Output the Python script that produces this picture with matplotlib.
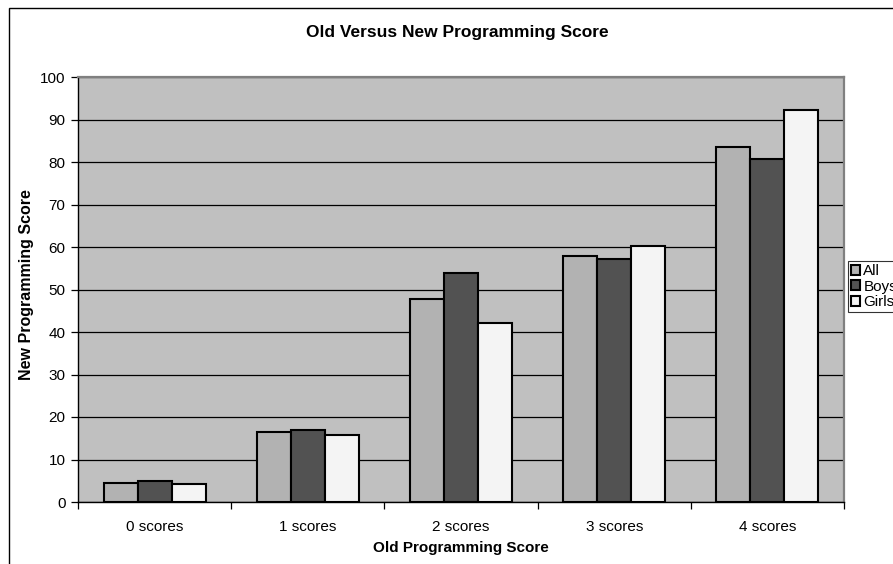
import numpy as np
import matplotlib
matplotlib.use("Agg")
import matplotlib.pyplot as plt
from matplotlib.patches import Rectangle

plt.rcParams['font.family'] = ['Liberation Sans', 'DejaVu Sans']

# data
categories = ['0 scores', '1 scores', '2 scores', '3 scores', '4 scores']
series_names = ['All', 'Boys', 'Girls']
all_scores = [4.5, 16.5, 47.8, 58.0, 83.6]
boys_scores = [4.9, 17.0, 53.8, 57.1, 80.6]
girls_scores = [4.2, 15.7, 42.2, 60.2, 92.2]
y_ticks = [0, 10, 20, 30, 40, 50, 60, 70, 80, 90, 100]

colors = ['#b2b2b2', '#525252', '#f4f4f4']

W, H = 893, 564
fig = plt.figure(figsize=(W / 100, H / 100), dpi=100)

# outer chart border (cropped at right and bottom in the reference)
fig.patches.append(Rectangle((8.5 / W, -0.1), 1.2, 1 - 8.5 / H + 0.1,
                             transform=fig.transFigure, fill=False,
                             edgecolor='black', lw=1.0))

left, right, top, bottom = 78, 844, 77, 502
ax = fig.add_axes([left / W, 1 - bottom / H, (right - left) / W, (bottom - top) / H])
ax.set_facecolor('#c0c0c0')

x = np.arange(len(categories))
bw = 1 / 4.5
for i, (vals, name) in enumerate(zip([all_scores, boys_scores, girls_scores], series_names)):
    ax.bar(x + (i - 1) * bw, vals, width=bw, color=colors[i], edgecolor='black',
           linewidth=1.5, label=name, zorder=3)

ax.set_xlim(-0.5, len(categories) - 0.5)
ax.set_ylim(0, 100)
ax.set_yticks(y_ticks)
ax.set_yticklabels([str(v) for v in y_ticks], fontsize=11)
ax.yaxis.grid(True, color='black', linewidth=0.9, zorder=1)
ax.set_axisbelow(True)

# category labels centred, ticks on the boundaries
ax.set_xticks(x)
ax.set_xticklabels(categories, fontsize=11)
ax.tick_params(axis='x', length=0, pad=13)
ax.set_xticks(np.arange(-0.5, len(categories)), minor=True)
ax.tick_params(axis='x', which='minor', length=5, width=0.9, color='black')
ax.tick_params(axis='y', length=5, width=0.9, pad=4)

for s in ['left', 'bottom']:
    ax.spines[s].set_color('black')
    ax.spines[s].set_linewidth(1.0)
for s in ['top', 'right']:
    ax.spines[s].set_color('#808080')
    ax.spines[s].set_linewidth(1.6)

fig.text(457 / W, 1 - 33 / H, 'Old Versus New Programming Score', ha='center',
         va='center', fontsize=12.5, fontweight='bold')
fig.text(461 / W, 1 - 548 / H, 'Old Programming Score', ha='center', va='center',
         fontsize=11, fontweight='bold')
fig.text(27 / W, 1 - 285 / H, 'New Programming Score', ha='center', va='center',
         rotation=90, fontsize=11.5, fontweight='bold')

leg = ax.legend(loc='upper left', bbox_to_anchor=(848 / W, 1 - 261 / H),
                bbox_transform=fig.transFigure, fontsize=11, frameon=True,
                fancybox=False, edgecolor='black', handlelength=0.6,
                handleheight=0.6, handletextpad=0.2, borderpad=0.2,
                labelspacing=0.1, borderaxespad=0)
leg.get_frame().set_linewidth(0.8)

fig.savefig('out.png', dpi=100)
